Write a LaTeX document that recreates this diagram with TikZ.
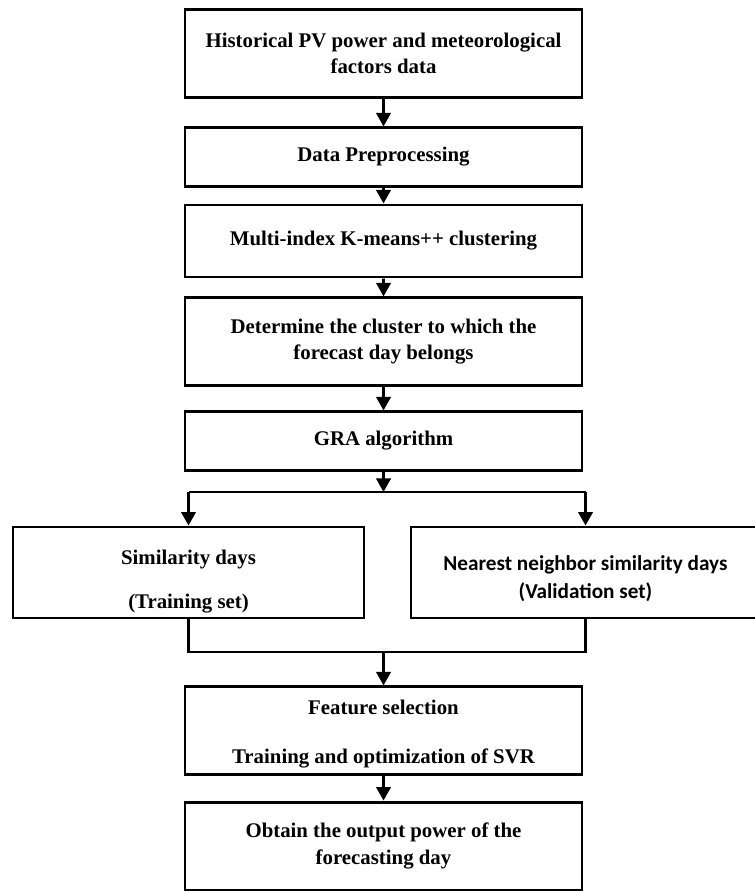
\documentclass[tikz,border=0pt]{standalone}
\usepackage{fontspec}
\setmainfont{Liberation Serif}[BoldFont={Liberation Serif Bold}]
\newfontfamily\sidefont{Carlito}
\usetikzlibrary{arrows.meta}

\begin{document}
\begin{tikzpicture}[scale=0.265]
\tikzstyle{every node}+=[font=\bfseries\fontsize{15.7}{20}\selectfont, align=center, inner sep=0pt]
\tikzstyle{stepbox}=[draw=black, line width=2.2pt, minimum width=10.52cm]
\tikzstyle{sidebox}=[draw=black, line width=2.2pt, minimum height=2.41cm]
\tikzstyle{link}=[black, line width=2.2pt]
\tikzstyle{flow}=[link, -{Triangle[length=3.6mm,width=3.8mm]}]
\useasboundingbox (0,0) rectangle (75.4,-89.2);
\node [stepbox, minimum height=2.31cm] (hist) at (38.35,-5.35) {Historical PV power and meteorological\\factors data};
\node [stepbox, minimum height=1.54cm] (prep) at (38.35,-15.7) {Data Preprocessing};
\node [stepbox, minimum height=1.91cm] (kmeans) at (38.35,-24.1) {Multi-index K-means++ clustering};
\node [stepbox, minimum height=2.31cm] (cluster) at (38.35,-34.15) {Determine the cluster to which the\\forecast day belongs};
\node [stepbox, minimum height=1.54cm] (gra) at (38.35,-44.1) {GRA algorithm};
\node [sidebox, minimum width=9.30cm] (train) at (18.85,-57.25) {\rule{0pt}{24pt}Similarity days\\[13pt](Training set)};
\node [sidebox, minimum width=9.25cm, font=\bfseries\sidefont\fontsize{16}{20}\selectfont] (valid) at (58.55,-57.25) {\rule{0pt}{20pt}Nearest neighbor similarity days\\[1pt](Validation set)};
\node [stepbox, minimum height=2.31cm] (svr) at (38.35,-73.05) {\rule{0pt}{16pt}Feature selection\\[17pt]Training and optimization of SVR};
\node [stepbox, minimum height=2.33cm] (out) at (38.35,-84.6) {Obtain the output power of the\\forecasting day};
\coordinate (fork) at (38.35,-49.2);
\coordinate (join) at (38.35,-65.2);
\draw [flow] (hist) -- (prep);
\draw [flow] (prep) -- (kmeans);
\draw [flow] (kmeans) -- (cluster);
\draw [flow] (cluster) -- (gra);
\draw [flow] (gra) -- (fork);
\draw [link] (train.north |- fork) -- (valid.north |- fork);
\draw [flow] (train.north |- fork) -- (train.north);
\draw [flow] (valid.north |- fork) -- (valid.north);
\draw [link] (train.south) -- (train.south |- join) -- (valid.south |- join) -- (valid.south);
\draw [flow] (join) -- (svr);
\draw [flow] (svr) -- (out);
\end{tikzpicture}
\end{document}
